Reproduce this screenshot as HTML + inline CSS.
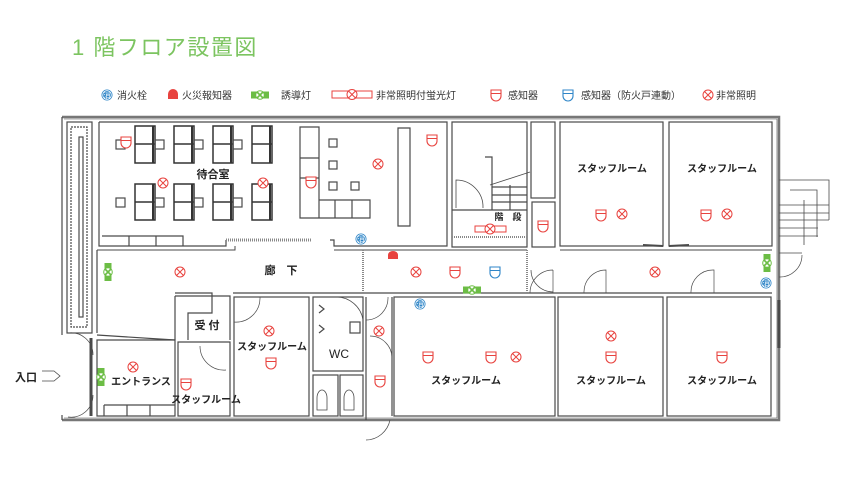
<!DOCTYPE html>
<html><head><meta charset="utf-8"><style>
html,body{margin:0;padding:0;background:#fff;width:850px;height:480px;overflow:hidden}
svg{display:block}
text{font-family:"Liberation Sans","Noto Sans CJK JP",sans-serif}
</style></head><body>
<svg width="850" height="480" viewBox="0 0 850 480" xmlns="http://www.w3.org/2000/svg">
<defs>
<g id="sen"><path d="M-5,-5 H5 V1 A5,5 0 0 1 -5,1 Z" fill="#fff" stroke="#e8433f" stroke-width="1.1"/><line x1="-5" y1="-1.5" x2="5" y2="-1.5" stroke="#e8433f" stroke-width="1"/></g>
<g id="senb"><path d="M-5,-5 H5 V1 A5,5 0 0 1 -5,1 Z" fill="#fff" stroke="#2f86c8" stroke-width="1.1"/><line x1="-5" y1="-1.5" x2="5" y2="-1.5" stroke="#2f86c8" stroke-width="1"/></g>
<g id="lamp"><circle r="5" fill="#fff" stroke="#e8433f" stroke-width="1"/><path d="M-3.5,-3.5 L3.5,3.5 M3.5,-3.5 L-3.5,3.5" stroke="#e8433f" stroke-width="1"/></g>
<g id="guide"><rect x="-9" y="-3.5" width="18" height="7" fill="#6cbd45"/><circle r="4.3" fill="#fff" stroke="#6cbd45" stroke-width="1"/><path d="M-3,-3 L3,3 M3,-3 L-3,3" stroke="#6cbd45" stroke-width="1.6"/></g>
<g id="hyd"><circle r="5.5" fill="#2f86c8"/><circle r="4.3" fill="none" stroke="#fff" stroke-width="0.8"/><text x="0" y="3" font-size="7" fill="#fff" text-anchor="middle">消</text></g>
</defs>

<text x="72" y="55" font-size="22" fill="#7cc460" letter-spacing="1.5">1 階フロア設置図</text>

<!-- legend -->
<g font-size="10" fill="#333">
<use href="#hyd" x="107" y="95"/><text x="117" y="99">消火栓</text>
<path d="M168,99 V94 A5,5 0 0 1 178,94 V99 Z" fill="#e8433f"/><text x="182" y="99">火災報知器</text>
<use href="#guide" x="260" y="95"/><text x="281" y="99">誘導灯</text>
<rect x="332" y="91" width="40" height="7" fill="none" stroke="#e8433f"/><use href="#lamp" x="352" y="94.5"/><text x="376" y="99">非常照明付蛍光灯</text>
<use href="#sen" x="496" y="95"/><text x="508" y="99">感知器</text>
<use href="#senb" x="568" y="95"/><text x="581" y="99">感知器（防火戸連動）</text>
<use href="#lamp" x="708" y="95"/><text x="716" y="99">非常照明</text>
</g>

<g fill="none" stroke="#4a4a4a" stroke-width="1.2">
<path d="M62,117 H779 V420 H62" stroke-width="2.5" stroke="#777"/>
<path d="M64,119 H777 V418 H64" stroke-width="0.6"/>
<path d="M62,117 V335 M62,420 V415"/>
<rect x="67" y="122" width="25" height="211"/>
<rect x="71" y="127" width="16" height="200" stroke-dasharray="2,1"/>
<rect x="79" y="137" width="4" height="180"/>
<path d="M99,122 H447 V246 H334 V240 H330"/>
<path d="M99,122 V246 H226 V240"/>
<path d="M226,240 H312" stroke-dasharray="1,1" stroke-width="3" stroke="#888"/>
<path d="M102,236 H183 V246 M129,236 V246 M156,236 V246"/>
<path d="M398,128 H410 V226 H398 Z"/>
<g stroke-width="1.5" stroke="#333">
<rect x="135" y="126" width="20" height="37"/><rect x="174" y="126" width="20" height="37"/><rect x="213" y="126" width="20" height="37"/><rect x="252" y="126" width="20" height="37"/>
<rect x="135" y="184" width="20" height="36"/><rect x="174" y="184" width="20" height="36"/><rect x="213" y="184" width="20" height="36"/><rect x="252" y="184" width="20" height="36"/>
<path d="M135,144 H155 M174,144 H194 M213,144 H233 M252,144 H272 M135,202 H155 M174,202 H194 M213,202 H233 M252,202 H272"/>
<path d="M153,126 V163 M192,126 V163 M231,126 V163 M270,126 V163 M153,184 V220 M192,184 V220 M231,184 V220 M270,184 V220" stroke-width="2"/>
</g>
<rect x="116" y="140" width="9" height="9"/><rect x="155" y="140" width="9" height="9"/><rect x="194" y="140" width="9" height="9"/><rect x="233" y="140" width="9" height="9"/>
<rect x="116" y="198" width="9" height="9"/><rect x="155" y="198" width="9" height="9"/><rect x="194" y="198" width="9" height="9"/><rect x="233" y="198" width="9" height="9"/>
<path d="M300,127 H319 V218 H300 Z M300,158 H319 M300,178 H319 M319,200 H370 V218 H319 M335,200 V218 M352,200 V218"/>
<rect x="329" y="139" width="8" height="8"/><rect x="329" y="161" width="8" height="8"/><rect x="329" y="182" width="8" height="8"/><rect x="351" y="182" width="8" height="8"/>
<path d="M452,122 H527 V247 H452 Z"/>
<path d="M452,210 H527"/>
<path d="M452,237 H527" stroke-dasharray="1,1" stroke-width="2" stroke="#888"/>
<path d="M485,157 H492 V210 M492,187 H527 M492,195 H527 M492,202 H527 M510,185 V210"/>
<path d="M456,208 V180 A27,27 0 0 1 483,208" stroke-width="0.8"/>
<path d="M490,185 L530,172" stroke-width="0.8"/>
<rect x="531" y="122" width="24" height="76"/><rect x="532" y="202" width="23" height="45"/>
<rect x="560" y="122" width="103" height="124"/>
<rect x="669" y="122" width="103" height="124"/>
<path d="M663,246 L643,245 M669,246 L689,245" stroke-width="2"/>
<path d="M97,250 H235 V246 M334,250 H447 M447,250 H527 M560,250 H772" stroke-width="1"/>
<path d="M97,250 V333 M97,335 L175,340 M175,340 V296 M175,296 H230 V340 M233,293 H772"/>
<path d="M363,250 V293" stroke-dasharray="1,1" stroke-width="2" stroke="#888"/>
<path d="M527,250 V293" stroke-dasharray="1,1" stroke-width="2" stroke="#888"/>
<path d="M175,293 H212 V313 H188 V340" />
<path d="M97,340 H175 V416 H97 Z M104,405 V416 H175 M127,405 V416 M150,405 V416 M104,405 H175"/>
<path d="M91,338 V416" stroke-width="3"/>
<path d="M93,355 A22,22 0 0 0 68,333 M93,395 A22,22 0 0 1 68,417" stroke-width="0.7"/>
<path d="M42,371 H54 L60,376 L54,381 H42" stroke-width="0.8"/>
<path d="M178,342 H230 V416 H178 Z"/>
<path d="M200,346 A24,24 0 0 0 226,370" stroke-width="0.7"/>
<rect x="234" y="297" width="75" height="119"/>
<path d="M234,322 A24,24 0 0 0 260,297" stroke-width="0.7"/>
<rect x="313" y="297" width="50" height="74"/>
<rect x="313" y="375" width="25" height="41"/><rect x="340" y="375" width="23" height="41"/>
<path d="M317,398 A5,8 0 0 1 327,398 V410 H317 Z M344,398 A5,8 0 0 1 354,398 V410 H344 Z" stroke-width="0.8"/>
<path d="M319,305 L324,309 L319,313 M319,325 L324,329 L319,333"/>
<rect x="350" y="322" width="10" height="11"/>
<path d="M366,297 V420 M392,297 V416"/>
<path d="M363,320 A27,27 0 0 0 336,297 M366,320 A22,22 0 0 0 388,297 M392,358 A22,22 0 0 0 370,336" stroke-width="0.7"/>
<path d="M366,440 A25,25 0 0 0 390,420" stroke-width="0.7"/>
<rect x="394" y="297" width="161" height="119"/>
<rect x="558" y="297" width="105" height="119"/>
<rect x="667" y="297" width="104" height="119"/>
<path d="M779,300 V348" stroke-width="3"/>
<path d="M531,270 A22,22 0 0 0 553,292 M530,293 A23,23 0 0 1 553,270 M553,270 V293 M584,293 A22,22 0 0 1 606,270 V293 M691,293 A22,22 0 0 1 714,270 V293 M779,253 H802 M779,277 A22,22 0 0 0 802,255" stroke-width="0.7"/>
<path d="M779,180 H829 V220 M790,190 H817 V237 M779,205 H829 M779,213 H829 M779,220 H829 M779,228 H818 M779,236 H818 M804,200 V245" stroke-width="0.8"/>
</g>

<rect x="475" y="226" width="31" height="6" fill="#fff" stroke="#e8433f"/>
<use href="#lamp" x="490" y="229"/>

<g>
<use href="#sen" x="126" y="142"/><use href="#sen" x="432" y="140"/><use href="#sen" x="311" y="182"/>
<use href="#sen" x="543" y="226"/><use href="#sen" x="601" y="215"/><use href="#sen" x="706" y="215"/>
<use href="#sen" x="455" y="272"/><use href="#senb" x="495" y="272"/>
<use href="#sen" x="271" y="363"/><use href="#sen" x="186" y="384"/><use href="#sen" x="380" y="381"/>
<use href="#sen" x="428" y="357"/><use href="#sen" x="491" y="357"/><use href="#sen" x="611" y="357"/><use href="#sen" x="722" y="357"/>
</g>
<g>
<use href="#lamp" x="163" y="183"/><use href="#lamp" x="263" y="183"/><use href="#lamp" x="378" y="164"/>
<use href="#lamp" x="180" y="272"/><use href="#lamp" x="416" y="272"/><use href="#lamp" x="655" y="272"/>
<use href="#lamp" x="622" y="214"/><use href="#lamp" x="727" y="214"/>
<use href="#lamp" x="269" y="331"/><use href="#lamp" x="379" y="331"/><use href="#lamp" x="133" y="367"/>
<use href="#lamp" x="516" y="357"/><use href="#lamp" x="611" y="336"/>
</g>
<use href="#guide" transform="translate(108,272) rotate(90)"/>
<use href="#guide" transform="translate(101,377) rotate(90)"/>
<use href="#guide" x="472" y="290"/>
<use href="#guide" transform="translate(767,263) rotate(90)"/>
<use href="#hyd" x="361" y="239"/><use href="#hyd" x="420" y="304"/><use href="#hyd" x="766" y="283"/>
<path d="M388,259 V255 A5,4 0 0 1 398,255 V259 Z" fill="#e8433f"/>

<g font-size="10" font-weight="bold" fill="#222" text-anchor="middle">
<text x="213" y="178" font-size="11">待合室</text>
<text x="281" y="274" font-size="11">廊　下</text>
<text x="207" y="329" font-size="11">受 付</text>
<text x="272" y="350">スタッフルーム</text>
<text x="339" y="358" font-size="12" font-weight="normal">WC</text>
<text x="141" y="385">エントランス</text>
<text x="206" y="403">スタッフルーム</text>
<text x="508" y="220" font-size="9">階　段</text>
<text x="612" y="172">スタッフルーム</text>
<text x="722" y="172">スタッフルーム</text>
<text x="466" y="384">スタッフルーム</text>
<text x="611" y="384">スタッフルーム</text>
<text x="722" y="384">スタッフルーム</text>
<text x="26" y="381" font-size="11">入口</text>
</g>
</svg>
</body></html>
